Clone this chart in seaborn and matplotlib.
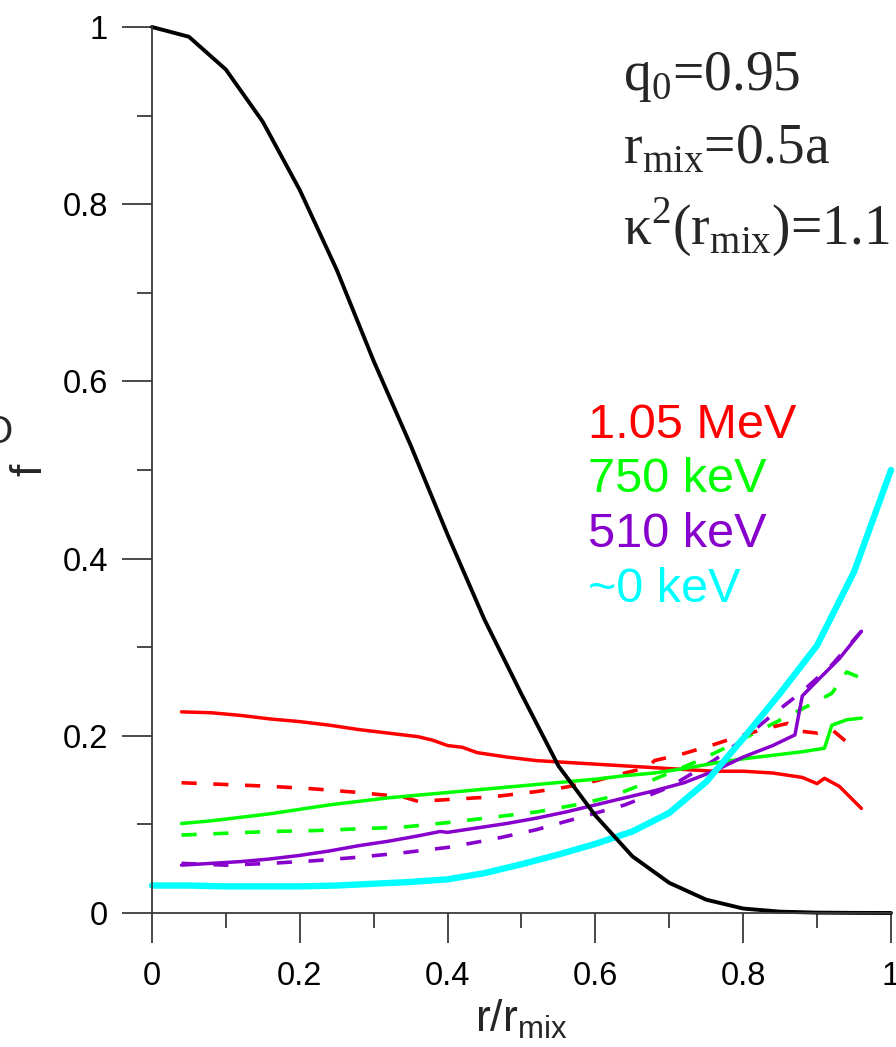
import numpy as np
import matplotlib
matplotlib.use("Agg")
import matplotlib.pyplot as plt
import seaborn as sns
from matplotlib.ticker import MultipleLocator

# -------------------------------------------------
# Style
# -------------------------------------------------
sns.set_style("ticks")
plt.rcParams["font.family"] = ["Liberation Sans", "DejaVu Sans"]
plt.rcParams["mathtext.fontset"] = "custom"
plt.rcParams["mathtext.rm"] = "Liberation Serif"
plt.rcParams["mathtext.sf"] = "Liberation Sans"

RED = "#ff0000"
GREEN = "#00ff00"
PURPLE = "#8800cc"
CYAN = "#00ffff"

# -------------------------------------------------
# Data
# -------------------------------------------------
# black: q-profile related distribution f(r)
black_x = [0.00, 0.05, 0.10, 0.15, 0.20, 0.25, 0.30, 0.35, 0.40, 0.45, 0.50,
           0.55, 0.60, 0.65, 0.70, 0.75, 0.80, 0.85, 0.90, 0.95, 1.00]
black_y = [1.000, 0.989, 0.952, 0.893, 0.816, 0.726, 0.623, 0.528, 0.427, 0.331, 0.247,
           0.166, 0.110, 0.064, 0.034, 0.015, 0.005, 0.0015, 0.0004, 0.0001, 0.0]

# ~0 keV (cyan)
cyan_x = [0.00, 0.05, 0.10, 0.15, 0.20, 0.25, 0.30, 0.35, 0.40, 0.45, 0.50,
          0.55, 0.60, 0.65, 0.70, 0.75, 0.80, 0.85, 0.90, 0.95, 1.00]
cyan_y = [0.031, 0.031, 0.030, 0.030, 0.030, 0.031, 0.033, 0.035, 0.038, 0.045, 0.055,
          0.066, 0.078, 0.092, 0.113, 0.148, 0.197, 0.248, 0.302, 0.385, 0.500]

# 1.05 MeV (red)
red_x = [0.04, 0.08, 0.12, 0.16, 0.20, 0.24, 0.28, 0.32, 0.36, 0.38, 0.40, 0.42,
         0.44, 0.48, 0.52, 0.56, 0.60, 0.64, 0.68, 0.72, 0.76, 0.80, 0.84, 0.88,
         0.90, 0.91, 0.93, 0.96]
red_y = [0.227, 0.226, 0.223, 0.219, 0.216, 0.212, 0.207, 0.203, 0.199, 0.195, 0.189, 0.187,
         0.181, 0.176, 0.172, 0.170, 0.168, 0.166, 0.164, 0.162, 0.160, 0.160, 0.158, 0.153,
         0.146, 0.152, 0.143, 0.118]
red_d_x = [0.04, 0.10, 0.16, 0.22, 0.28, 0.34, 0.36, 0.40, 0.46, 0.52, 0.56, 0.60,
           0.64, 0.67, 0.68, 0.72, 0.76, 0.80, 0.84, 0.86, 0.88, 0.90, 0.92, 0.94]
red_d_y = [0.147, 0.145, 0.143, 0.140, 0.136, 0.131, 0.126, 0.128, 0.131, 0.137, 0.142, 0.149,
           0.158, 0.164, 0.172, 0.180, 0.190, 0.201, 0.210, 0.214, 0.205, 0.203, 0.207, 0.193]

# 750 keV (green)
green_x = [0.04, 0.08, 0.12, 0.16, 0.20, 0.24, 0.28, 0.32, 0.36, 0.40, 0.44, 0.48,
           0.52, 0.56, 0.60, 0.64, 0.68, 0.72, 0.76, 0.80, 0.84, 0.88, 0.91, 0.92,
           0.94, 0.96]
green_y = [0.101, 0.104, 0.108, 0.112, 0.117, 0.122, 0.126, 0.130, 0.133, 0.136, 0.139, 0.142,
           0.145, 0.148, 0.151, 0.155, 0.158, 0.163, 0.169, 0.174, 0.178, 0.182, 0.186, 0.212,
           0.218, 0.220]
green_d_x = [0.04, 0.10, 0.16, 0.22, 0.28, 0.34, 0.40, 0.46, 0.52, 0.58, 0.62, 0.66,
             0.70, 0.74, 0.78, 0.82, 0.86, 0.90, 0.92, 0.94, 0.96]
green_d_y = [0.088, 0.090, 0.092, 0.093, 0.095, 0.097, 0.102, 0.108, 0.114, 0.123, 0.131, 0.144,
             0.158, 0.172, 0.188, 0.205, 0.222, 0.239, 0.248, 0.272, 0.265]

# 510 keV (purple)
purple_x = [0.04, 0.08, 0.12, 0.16, 0.20, 0.24, 0.28, 0.32, 0.36, 0.39, 0.40, 0.44,
            0.48, 0.52, 0.56, 0.60, 0.64, 0.68, 0.72, 0.76, 0.80, 0.84, 0.87, 0.88,
            0.90, 0.93, 0.96]
purple_y = [0.054, 0.056, 0.058, 0.061, 0.065, 0.070, 0.076, 0.081, 0.087, 0.092, 0.091, 0.096,
            0.101, 0.107, 0.114, 0.122, 0.130, 0.138, 0.147, 0.160, 0.176, 0.189, 0.201, 0.245,
            0.262, 0.287, 0.318]
purple_d_x = [0.04, 0.10, 0.16, 0.22, 0.28, 0.34, 0.40, 0.46, 0.52, 0.58, 0.64, 0.70,
              0.76, 0.80, 0.84, 0.88, 0.92, 0.96]
purple_d_y = [0.056, 0.054, 0.056, 0.059, 0.063, 0.068, 0.074, 0.083, 0.094, 0.108, 0.122, 0.142,
              0.172, 0.196, 0.224, 0.250, 0.280, 0.318]

energy_labels = ["1.05 MeV", "750 keV", "510 keV", "~0 keV"]
energy_colors = [RED, GREEN, PURPLE, CYAN]

params = [r"q$_0$=0.95", r"r$_{\mathrm{mix}}$=0.5a", r"κ$^2$(r$_{\mathrm{mix}}$)=1.1"]

# -------------------------------------------------
# Figure
# -------------------------------------------------
fig = plt.figure(figsize=(8.96, 10.47), dpi=100)
ax = fig.add_axes([0.1696, 0.1280, 0.8248, 0.8462])

DASH = (0, (4.2, 4.6))
series = [
    (purple_d_x, purple_d_y, PURPLE, DASH, 2.6),
    (green_d_x, green_d_y, GREEN, DASH, 2.6),
    (red_d_x, red_d_y, RED, DASH, 2.6),
    (red_x, red_y, RED, "-", 2.5),
    (green_x, green_y, GREEN, "-", 2.5),
    (purple_x, purple_y, PURPLE, "-", 2.5),
    (cyan_x, cyan_y, CYAN, "-", 4.6),
    (black_x, black_y, "black", "-", 2.8),
]
for xs, ys, col, ls, lw in series:
    sns.lineplot(x=xs, y=ys, color=col, linestyle=ls, linewidth=lw,
                 ax=ax, clip_on=False)

ax.set_xlim(0, 1)
ax.set_ylim(0, 1)
sns.despine(ax=ax)
for side in ["left", "bottom"]:
    ax.spines[side].set_color("#3a3a3a")
    ax.spines[side].set_linewidth(1.3)

ax.xaxis.set_major_locator(MultipleLocator(0.2))
ax.xaxis.set_minor_locator(MultipleLocator(0.1))
ax.yaxis.set_major_locator(MultipleLocator(0.2))
ax.yaxis.set_minor_locator(MultipleLocator(0.1))
ax.xaxis.set_major_formatter(lambda v, p: f"{v:g}")
ax.yaxis.set_major_formatter(lambda v, p: f"{v:g}")

ax.tick_params(which="major", direction="out", length=21.6, width=1.3,
               color="#3a3a3a", labelsize=23.5, labelcolor="black")
ax.tick_params(which="minor", direction="out", length=10.8, width=1.3,
               color="#3a3a3a")
ax.tick_params(axis="y", which="major", pad=10)
ax.tick_params(axis="x", which="major", pad=13)

ax.set_xlabel(r"r/r$_{\mathsf{mix}}$", fontsize=32)
ax.set_ylabel("f", fontsize=32)
ax.xaxis.set_label_coords(0.5, -0.096)
ax.yaxis.set_label_coords(-0.138, 0.5)

# parameter box (serif)
for txt, yy in zip(params, [0.929, 0.846, 0.754]):
    ax.text(0.637, yy, txt, fontsize=40, family=["Liberation Serif", "DejaVu Serif"],
            va="baseline", ha="left")

# energy legend
for txt, col, yy in zip(energy_labels, energy_colors, [0.536, 0.475, 0.413, 0.351]):
    ax.text(0.590, yy, txt, fontsize=35, color=col, va="baseline", ha="left")

# clipped glyph from neighbouring panel at the left edge
fig.text(-18 / 896, 1 - 443 / 1047, "O", fontsize=28, va="baseline", ha="left")

fig.savefig("out.png", dpi=100)
